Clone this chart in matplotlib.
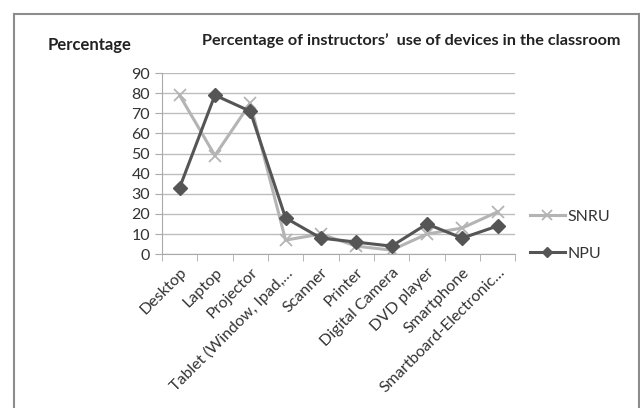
import numpy as np
import matplotlib
matplotlib.use('Agg')
import matplotlib.pyplot as plt
from matplotlib.lines import Line2D

plt.rcParams['font.family'] = ['Lato', 'DejaVu Sans']

devices = ['Desktop', 'Laptop', 'Projector', 'Tablet (Window, Ipad,\u2026', 'Scanner',
           'Printer', 'Digital Camera', 'DVD player', 'Smartphone',
           'Smartboard-Electronic\u2026']
snru = [79, 49, 75, 7, 10, 4, 2, 10, 13, 21]
npu = [33, 79, 71, 18, 8, 6, 4, 15, 8, 14]

fig = plt.figure(figsize=(6.4, 4.08), dpi=100)
ax = fig.add_axes([0.253, 0.377, 0.552, 0.444])

# outer chart border (no bottom edge visible in the reference)
for xs, ys in [([0.022, 0.022], [0.0, 0.966]), ([0.022, 0.998], [0.966, 0.966]),
               ([0.998, 0.998], [0.0, 0.966])]:
    fig.add_artist(Line2D(xs, ys, transform=fig.transFigure, color='#8c8c8c', lw=1.5))

x = np.arange(len(devices))
ax.plot(x, snru, color='#b4b4b4', lw=2.2, marker='x', ms=9, mew=1.3, label='SNRU', zorder=3)
ax.plot(x, npu, color='#555555', lw=2.2, marker='D', ms=7, label='NPU', zorder=4)

ax.set_ylim(0, 90)
ax.set_yticks(range(0, 91, 10))
ax.set_xlim(-0.5, len(devices) - 0.5)
ax.set_xticks(x)
ax.set_xticklabels(devices, rotation=45, ha='right', rotation_mode='anchor', fontsize=11.5, color='#333333')
ax.set_xticks(np.arange(-0.5, len(devices), 1), minor=True)
ax.tick_params(axis='x', which='major', length=0, pad=8)
ax.tick_params(axis='x', which='minor', length=5, color='#aaaaaa', direction='out')
ax.tick_params(axis='y', length=5, color='#aaaaaa', labelsize=11.5, labelcolor='#333333')
ax.grid(axis='y', color='#bdbdbd', lw=1)
ax.set_axisbelow(True)
for s in ['top', 'right']:
    ax.spines[s].set_visible(False)
for s in ['left', 'bottom']:
    ax.spines[s].set_color('#aaaaaa')

fig.text(0.075, 0.878, 'Percentage', fontsize=12, fontweight='bold', color='#222222')
fig.text(0.315, 0.89, 'Percentage of instructors\u2019  use of devices in the classroom',
         fontsize=11.7, fontweight='bold', color='#222222')

ax.legend(loc='center left', bbox_to_anchor=(1.0, 0.105), frameon=False, fontsize=11.5,
          handlelength=2.2, labelspacing=1.45, handletextpad=0.2, labelcolor='#333333',
          markerscale=0.8)

fig.savefig('out.png', dpi=100)
